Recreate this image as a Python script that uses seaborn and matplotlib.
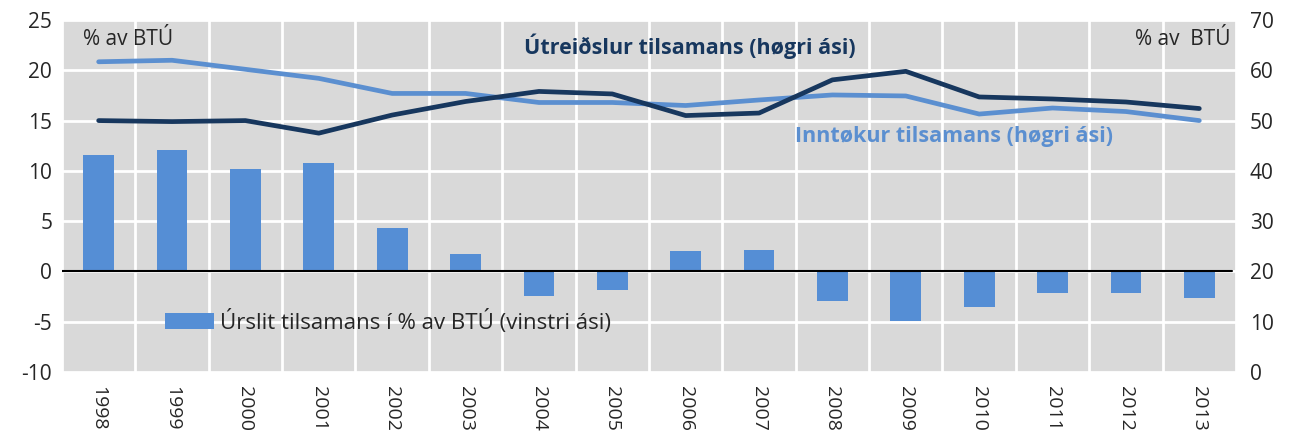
import numpy as np
import pandas as pd
import seaborn as sns
import matplotlib.pyplot as plt
from matplotlib.patches import Patch

# chart data
years = [str(y) for y in range(1998, 2014)]
urslit = [11.6, 12.1, 10.2, 10.8, 4.3, 1.7, -2.4, -1.9, 2.0, 2.1, -2.9, -4.9, -3.5, -2.2, -2.2, -2.6]
inntokur = [61.7, 62.0, 60.2, 58.4, 55.4, 55.4, 53.6, 53.6, 53.0, 54.1, 55.1, 54.9, 51.3, 52.5, 51.8, 50.0]
utreidslur = [50.0, 49.8, 50.0, 47.5, 51.1, 53.8, 55.8, 55.3, 51.0, 51.5, 58.1, 59.8, 54.7, 54.3, 53.7, 52.4]

left_ticks = [-10, -5, 0, 5, 10, 15, 20, 25]
right_ticks = [0, 10, 20, 30, 40, 50, 60, 70]

bar_col = "#558ed5"
light_col = "#5b8fd0"
navy_col = "#17375e"
bg_col = "#d9d9d9"
txt_col = "#262626"

sns.set_style("white")
plt.rcParams["font.family"] = ["Open Sans", "DejaVu Sans"]
plt.rcParams["axes.unicode_minus"] = False
fs = 15

df = pd.DataFrame({"year": years, "urslit": urslit,
                   "inntokur": inntokur, "utreidslur": utreidslur})
df["pos"] = np.arange(len(years))

fig = plt.figure(figsize=(12.99, 4.36), dpi=100)
ax = fig.add_axes([0.0477, 0.147, 0.9038, 0.807])
ax.set_facecolor(bg_col)

# bars on the left axis
sns.barplot(data=df, x="year", y="urslit", color=bar_col, width=0.42,
            saturation=1, linewidth=0, ax=ax, zorder=3)
ax.set_ylim(-10, 25)
ax.set_xlim(-0.5, len(years) - 0.5)
ax.set_yticks(left_ticks)
ax.set_xticks(np.arange(len(years)))
ax.set_xticklabels(years, rotation=-90, fontsize=14, color=txt_col)
ax.tick_params(axis="y", labelsize=fs, colors=txt_col, length=0, pad=7)
ax.tick_params(axis="x", length=0, pad=10)
ax.set_xlabel("")
ax.set_ylabel("")

# gridlines: horizontal at ticks, vertical at category boundaries
for v in left_ticks:
    ax.axhline(v, color="white", lw=2, zorder=1)
for b in np.arange(len(years) + 1) - 0.5:
    ax.axvline(b, color="white", lw=2, zorder=1)
ax.axhline(0, color="black", lw=1.5, zorder=4, xmax=0.997)
for s in ax.spines.values():
    s.set_visible(False)

# lines on the right axis
ax2 = ax.twinx()
sns.lineplot(data=df, x="pos", y="inntokur", color=light_col, lw=3.4, ax=ax2, zorder=5)
sns.lineplot(data=df, x="pos", y="utreidslur", color=navy_col, lw=3.4, ax=ax2, zorder=6)
ax2.set_ylim(0, 70)
ax2.set_yticks(right_ticks)
ax2.tick_params(axis="y", labelsize=fs, colors=txt_col, length=0, pad=10)
ax2.set_ylabel("")
ax2.set_xlim(-0.5, len(years) - 0.5)
for s in ax2.spines.values():
    s.set_visible(False)

# annotations
ax.text(0.018, 0.975, "% av BTÚ", transform=ax.transAxes, fontsize=fs,
        color=txt_col, va="top", ha="left")
ax.text(0.995, 0.975, "% av  BTÚ", transform=ax.transAxes, fontsize=fs,
        color=txt_col, va="top", ha="right")
ax2.text(8.06, 64.7, "Útreiðslur tilsamans (høgri ási)", fontsize=15.5,
         fontweight="bold", color=navy_col, ha="center", va="center")
ax2.text(11.66, 46.8, "Inntøkur tilsamans (høgri ási)", fontsize=15.5,
         fontweight="bold", color=light_col, ha="center", va="center")

# legend for bars
handle = Patch(facecolor=bar_col, edgecolor="none")
ax.legend([handle], ["Úrslit tilsamans í % av BTÚ (vinstri ási)"],
          loc="center left", bbox_to_anchor=(0.0877, 0.142), frameon=False,
          fontsize=16, handlelength=2.2, handleheight=0.73, handletextpad=0.3,
          borderpad=0, borderaxespad=0, labelcolor=txt_col)

fig.savefig("out.png", dpi=100)
